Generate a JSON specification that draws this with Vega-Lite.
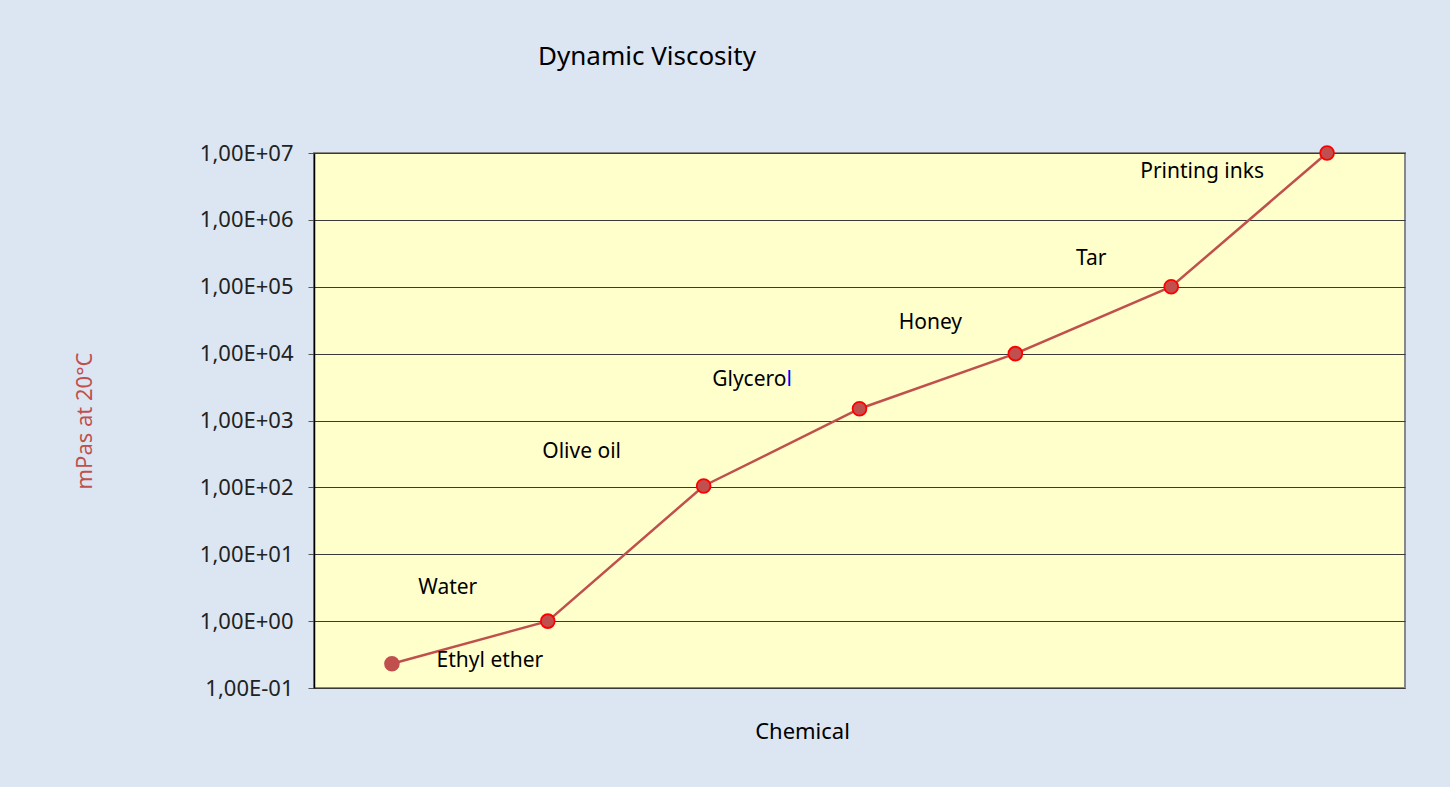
{
  "$schema": "https://vega.github.io/schema/vega-lite/v6.json",
  "autosize": "none",
  "width": 1091,
  "height": 535,
  "padding": {"left": 314, "top": 153, "right": 45, "bottom": 99},
  "background": "#dce6f2",
  "title": {
    "text": "Dynamic Viscosity",
    "anchor": "start",
    "frame": "group",
    "dx": 224,
    "offset": 72,
    "font": "Noto Sans",
    "fontSize": 26,
    "fontWeight": "normal",
    "color": "#000000"
  },
  "config": {
    "view": {"fill": "#ffffcc", "stroke": "#888888", "strokeWidth": 2},
    "font": "Noto Sans"
  },
  "data": {
    "values": [
      {"chemical": "Ethyl ether", "viscosity": 0.23},
      {"chemical": "Water", "viscosity": 1},
      {"chemical": "Olive oil", "viscosity": 105},
      {"chemical": "Glycerol", "viscosity": 1500},
      {"chemical": "Honey", "viscosity": 10000},
      {"chemical": "Tar", "viscosity": 100000},
      {"chemical": "Printing inks", "viscosity": 10000000}
    ]
  },
  "encoding": {
    "x": {
      "field": "chemical",
      "type": "nominal",
      "sort": null,
      "scale": {"type": "point", "padding": 0.5},
      "axis": {
        "title": "Chemical",
        "labels": false,
        "ticks": false,
        "domain": false,
        "grid": false,
        "titleFont": "Noto Sans",
        "titleFontSize": 22,
        "titleFontWeight": "normal",
        "titleColor": "#000000",
        "titleX": 488,
        "titleY": 43,
        "titleBaseline": "middle"
      }
    },
    "y": {
      "field": "viscosity",
      "type": "quantitative",
      "scale": {"type": "log", "domain": [0.1, 10000000], "nice": false},
      "axis": {
        "title": "mPas at 20°C",
        "values": [0.1, 1, 10, 100, 1000, 10000, 100000, 1000000, 10000000],
        "labelExpr": "'1,00E' + (datum.value < 1 ? '-' : '+') + '0' + abs(round(log(datum.value) / LN10))",
        "labelFont": "Noto Sans",
        "labelFontSize": 22,
        "labelColor": "#222222",
        "labelPadding": 15,
        "tickSize": 6,
        "tickColor": "#555555",
        "domainColor": "#000000",
        "domainWidth": 1.5,
        "grid": true,
        "gridColor": "#3a3a3a",
        "gridWidth": 1,
        "titleFont": "Noto Sans",
        "titleFontSize": 22,
        "titleFontWeight": "normal",
        "titleColor": "#c0504d",
        "titlePadding": 103
      }
    }
  },
  "layer": [
    {
      "mark": {"type": "line", "color": "#c0504d", "strokeWidth": 2.5}
    },
    {
      "mark": {"type": "point", "filled": true, "size": 190, "opacity": 1, "fill": "#c0504d", "strokeWidth": 1.8},
      "encoding": {
        "stroke": {
          "condition": {"test": "datum.chemical == 'Ethyl ether'", "value": "#c0504d"},
          "value": "#ff0000"
        }
      }
    },
    {
      "transform": [{"filter": "datum.chemical == 'Ethyl ether'"}],
      "mark": {"type": "text", "font": "Noto Sans", "fontSize": 21, "color": "#000000", "align": "center", "baseline": "middle", "dx": 98, "dy": -3},
      "encoding": {"text": {"field": "chemical"}}
    },
    {
      "transform": [{"filter": "datum.chemical == 'Water'"}],
      "mark": {"type": "text", "font": "Noto Sans", "fontSize": 21, "color": "#000000", "align": "center", "baseline": "middle", "dx": -100, "dy": -33},
      "encoding": {"text": {"field": "chemical"}}
    },
    {
      "transform": [{"filter": "datum.chemical == 'Olive oil'"}],
      "mark": {"type": "text", "font": "Noto Sans", "fontSize": 21, "color": "#000000", "align": "center", "baseline": "middle", "dx": -122, "dy": -34},
      "encoding": {"text": {"field": "chemical"}}
    },
    {
      "transform": [{"filter": "datum.chemical == 'Glycerol'"}],
      "mark": {"type": "text", "font": "Noto Sans", "fontSize": 21, "color": "#000000", "align": "right", "baseline": "middle", "dx": -73, "dy": -29},
      "encoding": {"text": {"value": "Glycero"}}
    },
    {
      "transform": [{"filter": "datum.chemical == 'Glycerol'"}],
      "mark": {"type": "text", "font": "Noto Sans", "fontSize": 21, "color": "#0000ff", "align": "left", "baseline": "middle", "dx": -73, "dy": -29},
      "encoding": {"text": {"value": "l"}}
    },
    {
      "transform": [{"filter": "datum.chemical == 'Honey'"}],
      "mark": {"type": "text", "font": "Noto Sans", "fontSize": 21, "color": "#000000", "align": "center", "baseline": "middle", "dx": -85, "dy": -31},
      "encoding": {"text": {"field": "chemical"}}
    },
    {
      "transform": [{"filter": "datum.chemical == 'Tar'"}],
      "mark": {"type": "text", "font": "Noto Sans", "fontSize": 21, "color": "#000000", "align": "center", "baseline": "middle", "dx": -80, "dy": -28},
      "encoding": {"text": {"field": "chemical"}}
    },
    {
      "transform": [{"filter": "datum.chemical == 'Printing inks'"}],
      "mark": {"type": "text", "font": "Noto Sans", "fontSize": 21, "color": "#000000", "align": "center", "baseline": "middle", "dx": -125, "dy": 19},
      "encoding": {"text": {"field": "chemical"}}
    }
  ]
}
